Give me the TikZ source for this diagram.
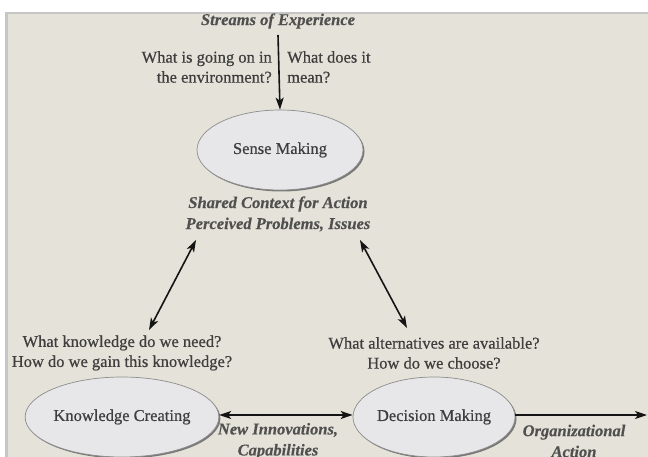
\documentclass[tikz,border=0pt]{standalone}
\usepackage{fontspec}
\setmainfont{Liberation Serif}[FakeBold=0.3]
\newfontfamily\heavyserif{Liberation Serif}[FakeBold=0.6]
\usetikzlibrary{shapes.geometric,arrows.meta,shadows}
\definecolor{bg}{RGB}{229,227,217}
\definecolor{rim}{RGB}{198,198,198}
\definecolor{efill}{RGB}{231,231,234}
\definecolor{eedge}{RGB}{140,140,140}
\definecolor{txt}{RGB}{62,62,62}
\definecolor{itx}{RGB}{80,80,80}
\definecolor{arr}{RGB}{20,20,20}
\tikzset{
  phase/.style={ellipse, draw=eedge, line width=0.7pt, fill=efill, inner sep=0pt,
    drop shadow={shadow xshift=1.5pt, shadow yshift=-1.5pt, fill=black!60, opacity=0.85},
    font=\heavyserif\fontsize{16.5}{20}\selectfont, text=txt},
  question/.style={font=\heavyserif\fontsize{16.5}{20}\selectfont, text=txt, inner sep=0pt},
  flowtext/.style={font=\fontsize{16.5}{21}\selectfont\bfseries\itshape, text=itx, inner sep=0pt, align=center},
  link/.style={draw=arr, line width=1.6pt, -{Stealth[length=12pt,width=8pt,inset=3pt]}},
  duplex/.style={draw=arr, line width=1.6pt, {Stealth[length=12pt,width=8pt,inset=3pt]}-{Stealth[length=12pt,width=8pt,inset=3pt]}}
}
\begin{document}
\begin{tikzpicture}[x=1pt,y=-1pt]
\useasboundingbox (0,0) rectangle (648,457);
\fill[white] (0,0) rectangle (648,457);
\fill[bg] (7,14) rectangle (648,457);
\fill[rim] (5,12) rectangle (648,14.5);
\fill[rim] (5,12) rectangle (7.5,457);

% phases
\node[phase, minimum width=166pt, minimum height=80pt] (sm) at (280,150) {Sense Making};
\node[phase, minimum width=164pt, minimum height=80pt] (kc) at (122,417) {Knowledge Creating};
\node[phase, minimum width=162pt, minimum height=80pt] (dm) at (434,417) {Decision Making};

% texts
\node[flowtext] (streams) at (278,21) {Streams of Experience};
\node[question, align=right, anchor=east] (q1) at (272,67) {What is going on in\\the environment?};
\node[question, align=left, anchor=west] (q2) at (287,67) {What does it\\mean?};
\node[flowtext] (ctx) at (278,214) {Shared Context for Action\\Perceived Problems, Issues};
\node[question, align=center] (kq) at (122,353) {What knowledge do we need?\\How do we gain this knowledge?};
\node[question, align=center] (dq) at (434,353) {What alternatives are available?\\How do we choose?};
\node[flowtext] (inn) at (278,441) {New Innovations,\\Capabilities};
\node[flowtext] (org) at (574,441) {Organizational\\Action};

% connector ends
\coordinate (sin) at (278,35);
\coordinate (l1) at (196,240);
\coordinate (l2) at (149,330);
\coordinate (r1) at (360,240);
\coordinate (r2) at (407,328);
\coordinate (out) at (647,415);

\draw[link] (sin) -- (sm.north);
\draw[duplex] (l1) -- (l2);
\draw[duplex] (r1) -- (r2);
\draw[duplex] (kc.east |- 0,415) -- (dm.west |- 0,415);
\draw[link] (dm.east |- 0,415) -- (out);
\end{tikzpicture}
\end{document}
